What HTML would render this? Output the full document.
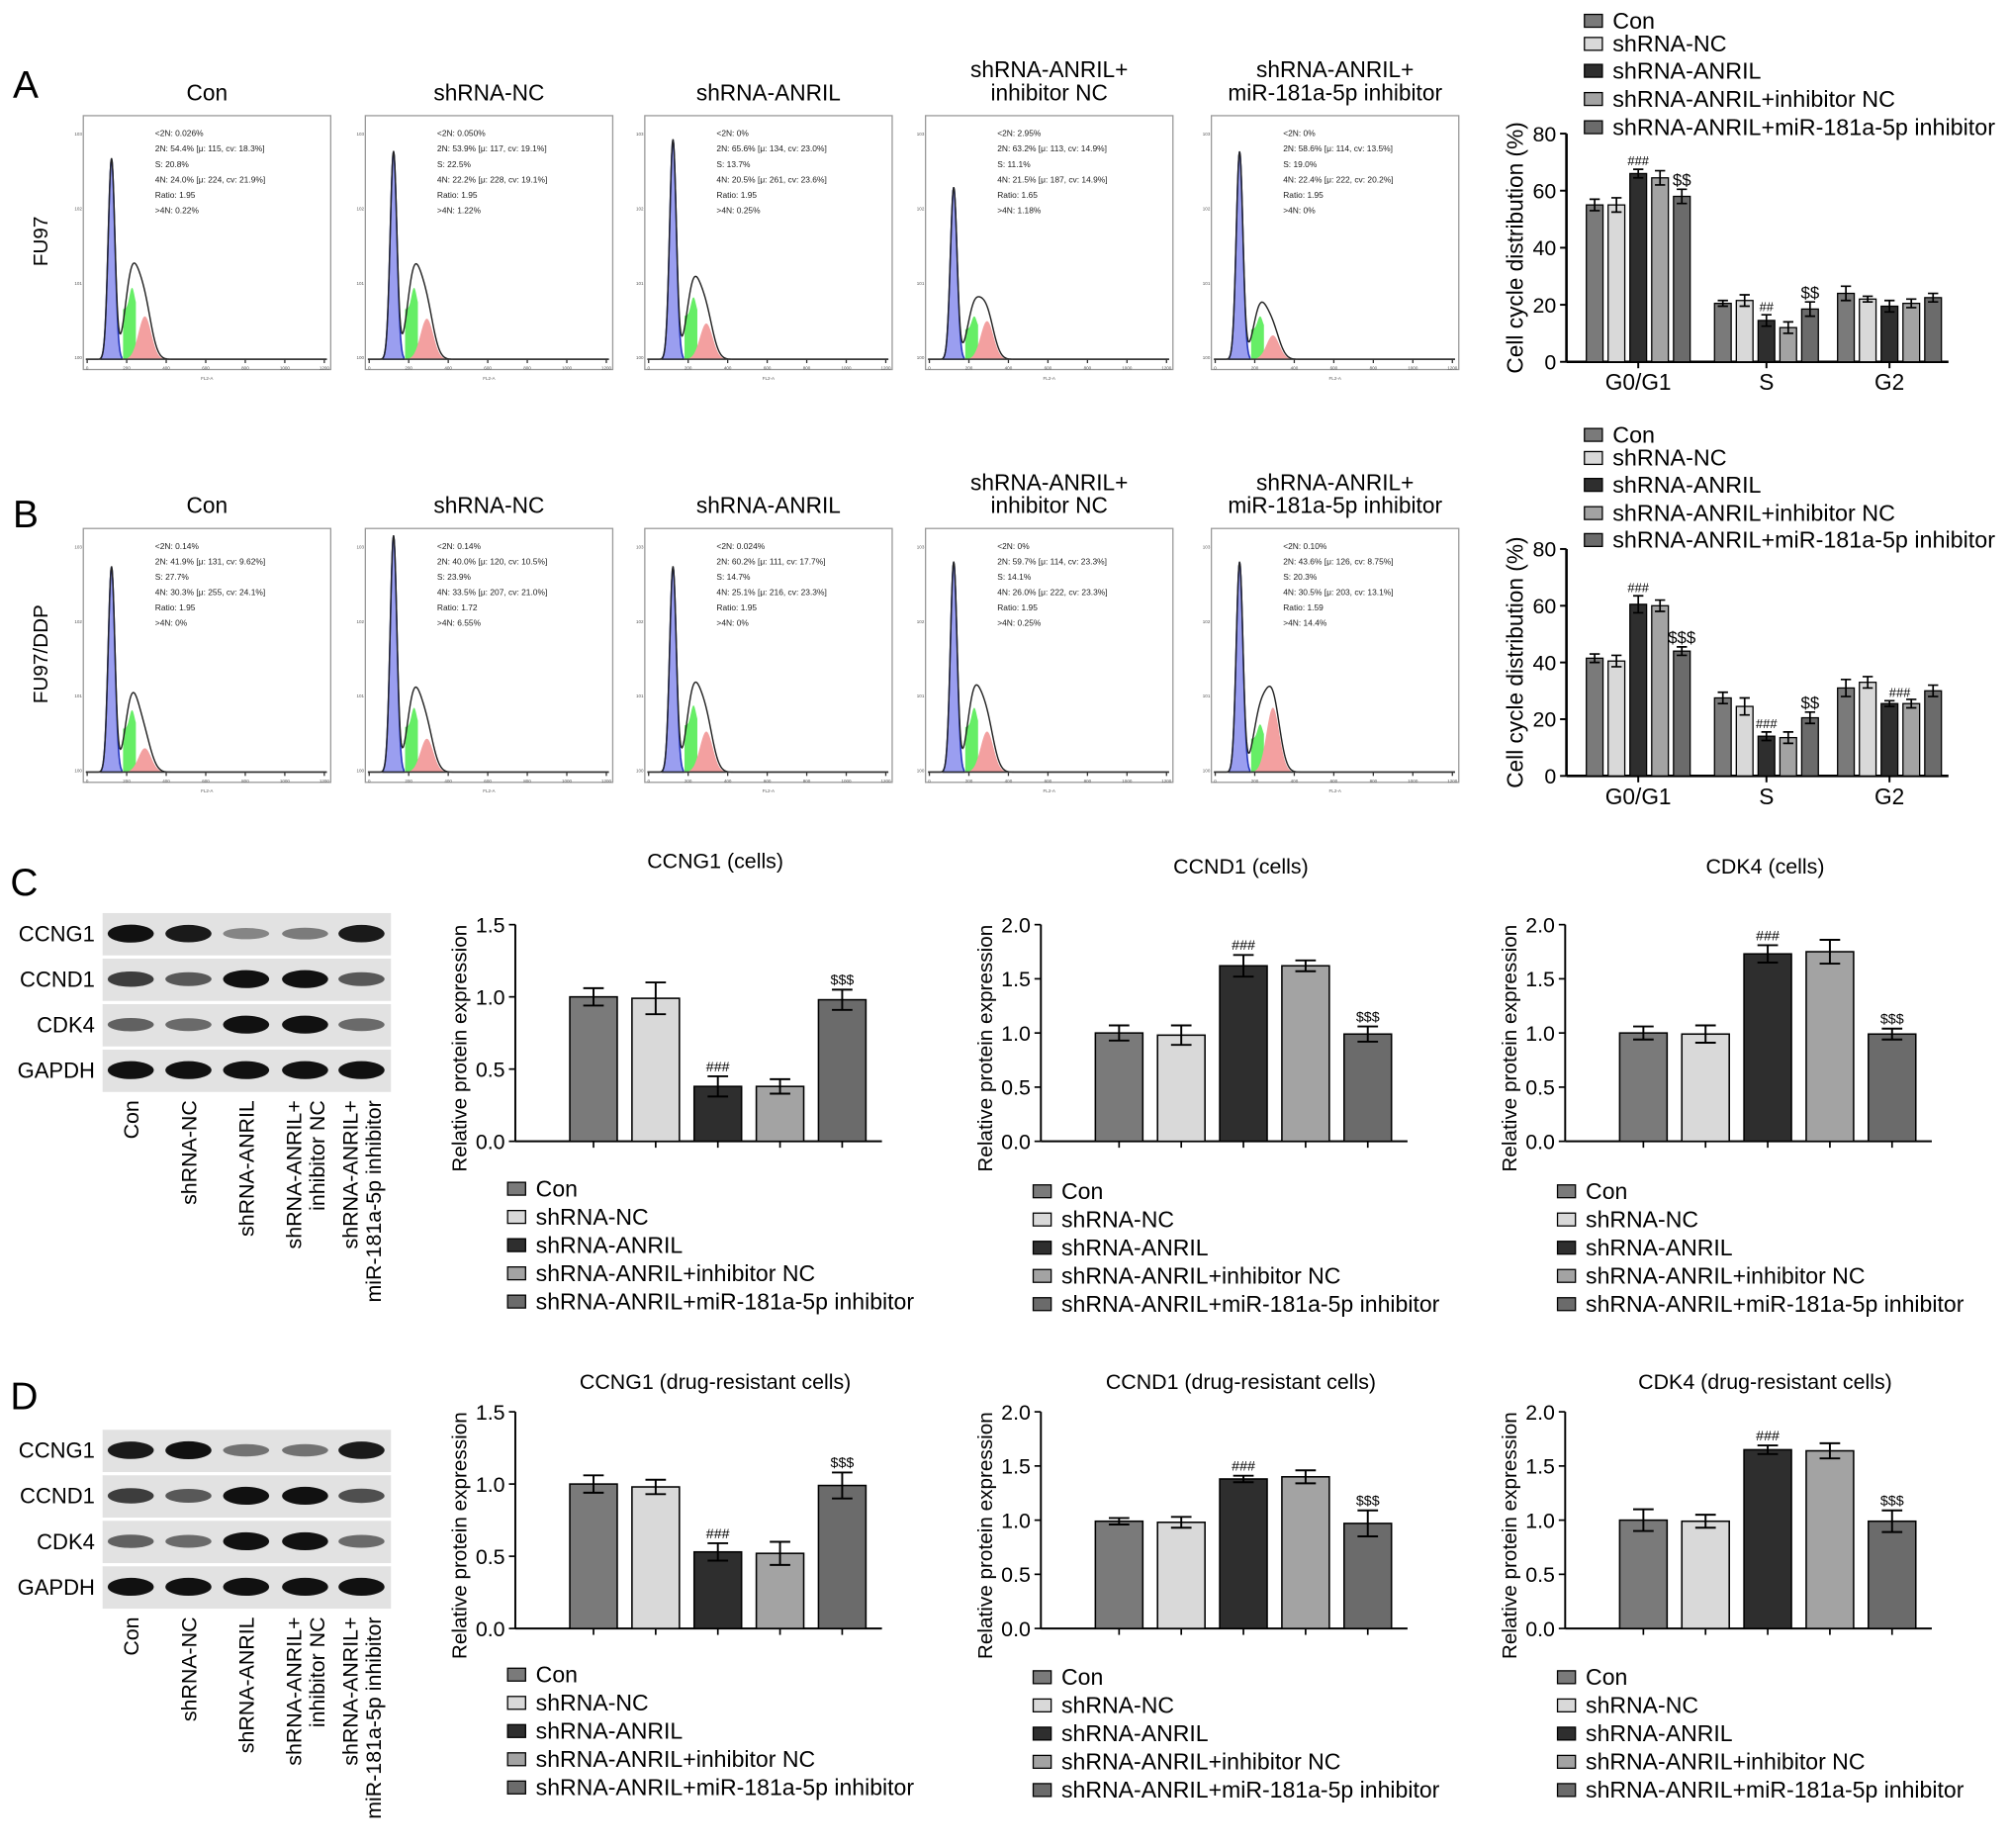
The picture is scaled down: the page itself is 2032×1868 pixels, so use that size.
<!DOCTYPE html>
<html><head><meta charset="utf-8">
<style>
html,body{margin:0;padding:0;background:#fff;}
svg{display:block;font-family:"Liberation Sans",Arial,sans-serif;}
</style></head>
<body>
<svg id="fig" width="2032" height="1868" viewBox="0 0 1568 1441" xmlns="http://www.w3.org/2000/svg">
<rect x="0" y="0" width="1568" height="1441" fill="#fff"/>
<g id="static">
<text x="10" y="76" font-size="30">A</text>
<text x="10" y="411" font-size="30">B</text>
<text x="8" y="698" font-size="30">C</text>
<text x="8" y="1099" font-size="30">D</text>
<text transform="translate(37,188) rotate(-90)" text-anchor="middle" font-size="16">FU97</text>
<text transform="translate(37,510) rotate(-90)" text-anchor="middle" font-size="16">FU97/DDP</text>
</g>
<g id="layer"></g>
</svg>
<script>
// ---------- data ----------
const groups = ["Con","shRNA-NC","shRNA-ANRIL","shRNA-ANRIL+inhibitor NC","shRNA-ANRIL+miR-181a-5p inhibitor"];
const phaseLabels = ["G0/G1","S","G2"];
const cycleTicks = [0,20,40,60,80];
const protTicks15 = [0.0,0.5,1.0,1.5];
const protTicks20 = [0.0,0.5,1.0,1.5,2.0];
// panel A cell cycle
const cycA_G0 = [55,55,66,64.5,58];
const cycA_S  = [20.5,21.5,14.5,12,18.5];
const cycA_G2 = [24,22,19.5,20.5,22.5];
const cycA_errG0 = [2,2.5,1.5,2.5,2.5];
const cycA_errS  = [1,2,2,2,2.5];
const cycA_errG2 = [2.5,1,2,1.5,1.5];
// panel B
const cycB_G0 = [41.5,40.5,60.5,60,44];
const cycB_S  = [27.5,24.5,14,13.5,20.5];
const cycB_G2 = [31,33,25.5,25.5,30];
const cycB_errG0 = [1.5,2,3,2,1.5];
const cycB_errS  = [2,3,1.5,2,2];
const cycB_errG2 = [3,2,1,1.5,2];
// protein expression
const cCCNG1 = [1.0,0.99,0.38,0.38,0.98];  const cCCNG1e=[0.06,0.11,0.07,0.05,0.07];
const cCCND1 = [1.0,0.98,1.62,1.62,0.99];  const cCCND1e=[0.07,0.09,0.10,0.05,0.07];
const cCDK4  = [1.0,0.99,1.73,1.75,0.99];  const cCDK4e =[0.06,0.08,0.08,0.11,0.05];
const dCCNG1 = [1.0,0.98,0.53,0.52,0.99];  const dCCNG1e=[0.06,0.05,0.06,0.08,0.09];
const dCCND1 = [0.99,0.98,1.38,1.40,0.97]; const dCCND1e=[0.03,0.05,0.03,0.06,0.12];
const dCDK4  = [1.0,0.99,1.65,1.64,0.99];  const dCDK4e =[0.10,0.06,0.04,0.07,0.10];
// histogram stats text
const histTextA = [
 ["<2N: 0.026%","2N: 54.4%  [μ: 115, cv: 18.3%]","S: 20.8%","4N: 24.0%  [μ: 224, cv: 21.9%]","Ratio: 1.95",">4N: 0.22%"],
 ["<2N: 0.050%","2N: 53.9%  [μ: 117, cv: 19.1%]","S: 22.5%","4N: 22.2%  [μ: 228, cv: 19.1%]","Ratio: 1.95",">4N: 1.22%"],
 ["<2N: 0%","2N: 65.6%  [μ: 134, cv: 23.0%]","S: 13.7%","4N: 20.5%  [μ: 261, cv: 23.6%]","Ratio: 1.95",">4N: 0.25%"],
 ["<2N: 2.95%","2N: 63.2%  [μ: 113, cv: 14.9%]","S: 11.1%","4N: 21.5%  [μ: 187, cv: 14.9%]","Ratio: 1.65",">4N: 1.18%"],
 ["<2N: 0%","2N: 58.6%  [μ: 114, cv: 13.5%]","S: 19.0%","4N: 22.4%  [μ: 222, cv: 20.2%]","Ratio: 1.95",">4N: 0%"]];
const histTextB = [
 ["<2N: 0.14%","2N: 41.9%  [μ: 131, cv: 9.62%]","S: 27.7%","4N: 30.3%  [μ: 255, cv: 24.1%]","Ratio: 1.95",">4N: 0%"],
 ["<2N: 0.14%","2N: 40.0%  [μ: 120, cv: 10.5%]","S: 23.9%","4N: 33.5%  [μ: 207, cv: 21.0%]","Ratio: 1.72",">4N: 6.55%"],
 ["<2N: 0.024%","2N: 60.2%  [μ: 111, cv: 17.7%]","S: 14.7%","4N: 25.1%  [μ: 216, cv: 23.3%]","Ratio: 1.95",">4N: 0%"],
 ["<2N: 0%","2N: 59.7%  [μ: 114, cv: 23.3%]","S: 14.1%","4N: 26.0%  [μ: 222, cv: 23.3%]","Ratio: 1.95",">4N: 0.25%"],
 ["<2N: 0.10%","2N: 43.6%  [μ: 126, cv: 8.75%]","S: 20.3%","4N: 30.5%  [μ: 203, cv: 13.1%]","Ratio: 1.59",">4N: 14.4%"]];
const histPeaksA = [[0.84,0.30,0.18],[0.87,0.30,0.17],[0.92,0.26,0.15],[0.72,0.18,0.16],[0.87,0.18,0.10]];
const histPeaksB = [[0.86,0.26,0.10],[0.99,0.27,0.14],[0.86,0.28,0.17],[0.88,0.27,0.17],[0.88,0.20,0.27]];
const colors = ["#7a7a7a","#d9d9d9","#2e2e2e","#a3a3a3","#6b6b6b"];

// ---------- helpers ----------
const NS="http://www.w3.org/2000/svg";
const layer=document.getElementById('layer');
function mk(tag,attrs,parent,txt){const e=document.createElementNS(NS,tag);for(const k in attrs)e.setAttribute(k,attrs[k]);if(txt!==undefined)e.textContent=txt;(parent||layer).appendChild(e);return e;}

// ---------- histograms ----------
const histX=[65,285,503,722,945];
const titles=[["Con"],["shRNA-NC"],["shRNA-ANRIL"],["shRNA-ANRIL+","inhibitor NC"],["shRNA-ANRIL+","miR-181a-5p inhibitor"]];
function histRow(y0,peaks,texts,titleY,row){
  for(let i=0;i<5;i++){
    const g=mk('g',{});
    
    
    const x0=histX[i],w=193,h=198;
    const t=titles[i];
    t.forEach((s,k)=>{const tt=mk('text',{x:x0+w/2,y:titleY-(t.length-1-k)*18,'text-anchor':'middle','font-size':17.5},g,s);
      });
    mk('rect',{x:x0,y:y0,width:w,height:h,fill:'none',stroke:'#999','stroke-width':1},g);
    const base=y0+h-8, H=h-12;
    const bx=x0+22, gx=x0+36, px=x0+48;
    const [pb,pg,pp]=peaks[i];
    const gauss=(x,c,s)=>Math.exp(-((x-c)*(x-c))/(2*s*s));
    let blue=`M${bx-8},${base}`,grn=`M${gx-5},${base}`,pnk=`M${px-14},${base}`,blk=`M${x0+2},${base}`;
    for(let x=bx-8;x<=bx+8;x+=0.5) blue+=`L${x},${base-pb*H*gauss(x,bx,2.6)}`;
    for(let x=gx-5;x<=gx+5;x+=0.5) grn+=`L${x},${base-pg*H*(0.7+0.3*gauss(x,gx+2,2))}`;
    for(let x=px-14;x<=px+14;x+=0.5) pnk+=`L${x},${base-pp*H*gauss(x,px,5)}`;
    for(let x=x0+2;x<=x0+w-3;x+=0.5){const v=pb*gauss(x,bx,2.6)+pg*0.85*gauss(x,gx+1,5)+pg*0.45*gauss(x,(gx+px)/2,6)+pp*gauss(x,px,5.5);blk+=`L${x},${base-v*H}`;}
    blue+=`L${bx+8},${base}Z`;grn+=`L${gx+5},${base}Z`;pnk+=`L${px+14},${base}Z`;
    mk('path',{d:blue,fill:'#9a9ef0',stroke:'#2233bb','stroke-width':1.2},g);
    mk('path',{d:grn,fill:'#66ee66',stroke:'none'},g);
    mk('path',{d:pnk,fill:'#f3a0a0',stroke:'none'},g);
    mk('path',{d:blk,fill:'none',stroke:'#222','stroke-width':1.1},g);
    mk('line',{x1:x0+2,y1:base,x2:x0+w-3,y2:base,stroke:'#333','stroke-width':1.2},g);
    for(let k=0;k<7;k++){const tx=x0+3+k*(w-8)/6;mk('line',{x1:tx,y1:base,x2:tx,y2:base+3,stroke:'#333'},g);mk('text',{x:tx,y:base+8,'font-size':3.5,'text-anchor':'middle',fill:'#555'},g,String(k*200));}
    for(let k=0;k<4;k++)mk('text',{x:x0-1,y:base-k*H/3.2,'font-size':3.5,'text-anchor':'end',fill:'#555'},g,'10'+k);
    mk('text',{x:x0+w/2,y:base+16,'font-size':3.5,'text-anchor':'middle',fill:'#555'},g,'FL2-A');
    texts[i].forEach((s,k)=>mk('text',{x:x0+56,y:y0+16+k*12,'font-size':6.5,fill:'#222'},g,s));
  }
}
histRow(90,histPeaksA,histTextA,78,'fu97');
histRow(412,histPeaksB,histTextB,400,'fu97-ddp');

// ---------- cell cycle bar charts ----------
function cycleChart(axX,yTop,yBot,legY,vals,errs,ann,name){
  const g=mk('g',{});
  
  
  const yS=v=>yBot-(v/80)*(yBot-yTop);
  const axRight=1520;
  mk('line',{x1:axX,y1:yTop,x2:axX,y2:yBot,stroke:'#000','stroke-width':2},g);
  mk('line',{x1:axX,y1:yBot,x2:axRight,y2:yBot,stroke:'#000','stroke-width':2},g);
  cycleTicks.forEach(t=>{mk('line',{x1:axX-5,y1:yS(t),x2:axX,y2:yS(t),stroke:'#000','stroke-width':1.5},g);
    mk('text',{x:axX-8,y:yS(t)+6,'font-size':16.5,'text-anchor':'end'},g,String(t));});
  const yl=mk('text',{transform:`translate(${axX-34},${(yTop+yBot)/2}) rotate(-90)`,'text-anchor':'middle','font-size':17.5},g,'Cell cycle distribution (%)');
  
  const centers=[1278,1378,1474], bw=13, step=17;
  phaseLabels.forEach((p,pi)=>{
    const lt=mk('text',{x:centers[pi],y:yBot+22,'font-size':17.5,'text-anchor':'middle'},g,p);
    
    mk('line',{x1:centers[pi],y1:yBot,x2:centers[pi],y2:yBot+5,stroke:'#000','stroke-width':1.5},g);
    for(let k=0;k<5;k++){
      const cx=centers[pi]+(k-2)*step, v=vals[pi][k], e=errs[pi][k];
      const r=mk('rect',{x:cx-bw/2,y:yS(v),width:bw,height:yBot-yS(v),fill:colors[k],stroke:'#000','stroke-width':1},g);
      
      
      mk('path',{d:`M${cx},${yS(v)}V${yS(v+e)}M${cx-4},${yS(v+e)}H${cx+4}M${cx},${yS(v)}V${yS(v-e)}M${cx-4},${yS(v-e)}H${cx+4}`,stroke:'#000','stroke-width':1.3,fill:'none'},g);
      const a=ann[pi][k]; if(a){const ax=(a[0]==='#'&&pi===2&&k===2)?cx+8:cx;mk('text',{x:ax,y:yS(v+e)-3,'font-size':a[0]==='#'?10:13,'text-anchor':'middle'},g,a);}
    }
  });
  groups.forEach((s,k)=>{const ly=legY[k];
    const it=mk('g',{},g);
    
    
    mk('rect',{x:1236,y:ly-11,width:14,height:10,fill:colors[k],stroke:'#000','stroke-width':1},it);
    mk('text',{x:1258,y:ly,'font-size':18},it,s);});
}
cycleChart(1222,104,282,[22,40,61,83,105],[cycA_G0,cycA_S,cycA_G2],[cycA_errG0,cycA_errS,cycA_errG2],
  [["","","###","","$$"],["","","##","","$$"],["","","","",""]],'cell-cycle-chart-fu97');
cycleChart(1222,428,605,[345,363,384,406,427],[cycB_G0,cycB_S,cycB_G2],[cycB_errG0,cycB_errS,cycB_errG2],
  [["","","###","","$$$"],["","","###","","$$"],["","","###","",""]],'cell-cycle-chart-fu97-ddp');

// ---------- western blots ----------
const lanes=[102,147,192,238,282];
const bandInt={
 c:{CCNG1:[1,0.95,0.35,0.4,0.95],CCND1:[0.75,0.6,1,1,0.6],CDK4:[0.55,0.5,1,1,0.5],GAPDH:[1,1,1,1,1]},
 d:{CCNG1:[0.95,1,0.45,0.45,0.95],CCND1:[0.75,0.6,1,1,0.65],CDK4:[0.55,0.5,1,1,0.5],GAPDH:[1,1,1,1,1]}};
const laneLabels=[["Con"],["shRNA-NC"],["shRNA-ANRIL"],["shRNA-ANRIL+","inhibitor NC"],["shRNA-ANRIL+","miR-181a-5p inhibitor"]];
function blot(y0,key){
  const g=mk('g',{});
  
  
  const names=["CCNG1","CCND1","CDK4","GAPDH"];
  names.forEach((n,i)=>{
    const ry=y0+i*35.5;
    mk('rect',{x:80,y:ry,width:225,height:33,fill:'#e2e2e2'},g);
    mk('text',{x:74,y:ry+22,'font-size':17,'text-anchor':'end'},g,n);
    bandInt[key][n].forEach((v,k)=>{
      mk('ellipse',{cx:lanes[k],cy:ry+16,rx:18,ry:3+4*v,fill:'#111','fill-opacity':0.15+0.85*v},g);
    });
  });
  const ly=y0+4*35.5+4;
  laneLabels.forEach((L,k)=>{
    L.forEach((s,j)=>{const off=(L.length===2)?(j===0?-9:9):0;
      mk('text',{transform:`translate(${lanes[k]+off+6},${ly}) rotate(-90)`,'text-anchor':'end','font-size':16.5},g,s);});
  });
}
blot(712,'c');
blot(1115,'d');

// ---------- protein bar charts ----------
function protChart(axX,yTop,yBot,max,ticks,vals,errs,ann,title,titleY,legY,name){
  const g=mk('g',{});
  
  
  const yS=v=>yBot-(v/max)*(yBot-yTop);
  const axR=axX+286;
  const t=mk('text',{x:axX+156,y:titleY,'font-size':16.5,'text-anchor':'middle'},g,title);
  
  mk('line',{x1:axX,y1:yTop,x2:axX,y2:yBot,stroke:'#000','stroke-width':1.5},g);
  mk('line',{x1:axX,y1:yBot,x2:axR,y2:yBot,stroke:'#000','stroke-width':1.5},g);
  ticks.forEach(tk=>{mk('line',{x1:axX-5,y1:yS(tk),x2:axX,y2:yS(tk),stroke:'#000','stroke-width':1.3},g);
    mk('text',{x:axX-8,y:yS(tk)+6,'font-size':16.5,'text-anchor':'end'},g,tk.toFixed(1));});
  const yl=mk('text',{transform:`translate(${axX-38},${(yTop+yBot)/2+12}) rotate(-90)`,'text-anchor':'middle','font-size':16},g,'Relative protein expression');
  
  const bw=37;
  for(let k=0;k<5;k++){
    const cx=axX+61+k*48.5, v=vals[k], e=errs[k];
    mk('line',{x1:cx,y1:yBot,x2:cx,y2:yBot+5,stroke:'#000','stroke-width':1.3},g);
    const r=mk('rect',{x:cx-bw/2,y:yS(v),width:bw,height:yBot-yS(v),fill:colors[k],stroke:'#000','stroke-width':1.2},g);
    
    
    mk('path',{d:`M${cx},${yS(v-e)}V${yS(v+e)}M${cx-8},${yS(v+e)}H${cx+8}M${cx-8},${yS(v-e)}H${cx+8}`,stroke:'#000','stroke-width':1.5,fill:'none'},g);
    if(ann[k])mk('text',{x:cx,y:yS(v+e)-4,'font-size':11,'text-anchor':'middle'},g,ann[k]);
  }
  groups.forEach((s,k)=>{
    const it=mk('g',{},g);
    
    
    const ly=legY+k*22;
    mk('rect',{x:axX-6,y:ly-11,width:14,height:10,fill:colors[k],stroke:'#000','stroke-width':1},it);
    mk('text',{x:axX+16,y:ly,'font-size':17.8},it,s);});
}
const annP=["","","###","","$$$"];
protChart(402,721,890,1.5,protTicks15,cCCNG1,cCCNG1e,annP,'CCNG1 (cells)',677,933,'ccng1-cells-chart');
protChart(812,721,890,2.0,protTicks20,cCCND1,cCCND1e,annP,'CCND1 (cells)',681,935,'ccnd1-cells-chart');
protChart(1221,721,890,2.0,protTicks20,cCDK4,cCDK4e,annP,'CDK4 (cells)',681,935,'cdk4-cells-chart');
protChart(402,1101,1270,1.5,protTicks15,dCCNG1,dCCNG1e,annP,'CCNG1 (drug-resistant cells)',1083,1312,'ccng1-drug-resistant-chart');
protChart(812,1101,1270,2.0,protTicks20,dCCND1,dCCND1e,annP,'CCND1 (drug-resistant cells)',1083,1314,'ccnd1-drug-resistant-chart');
protChart(1221,1101,1270,2.0,protTicks20,dCDK4,dCDK4e,annP,'CDK4 (drug-resistant cells)',1083,1314,'cdk4-drug-resistant-chart');
</script>
</body></html>
